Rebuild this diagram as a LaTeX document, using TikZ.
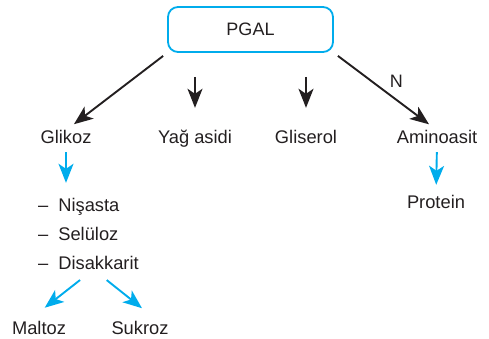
\documentclass[tikz,border=0pt]{standalone}
\usepackage{fontspec}
\setmainfont{Liberation Sans}
\usepackage{tikz}
\usetikzlibrary{arrows.meta, positioning, calc}
\definecolor{pblue}{RGB}{0,172,236}
\definecolor{ink}{RGB}{35,31,32}
\tikzset{
  box/.style ={rectangle, rounded corners=10pt, draw=pblue, line width=1.8pt, minimum width=165pt, minimum height=45pt, font=\fontsize{18}{20}\selectfont, text=ink},
  txt/.style ={inner sep=0pt, text height=13pt, text depth=0pt, font=\fontsize{18.3}{20}\selectfont, text=ink},
  fl/.style  ={draw=ink, line width=1.9pt, -{Stealth[length=19pt, width=15pt, inset=5pt]}},
  bfl/.style ={draw=pblue, line width=1.9pt, -{Stealth[length=19pt, width=15pt, inset=5pt]}},
  lbl/.style ={inner sep=0pt, text height=13pt, text depth=0pt, font=\fontsize{18}{20}\selectfont, text=ink},
}
\begin{document}
\begin{tikzpicture}[x=1pt, y=-1pt]
  \useasboundingbox (0,0) rectangle (489,338);
  \node[box] (pgal) at (250.5,29.5) {PGAL};
  \node[txt] (glikoz) at (66,137) {Glikoz};
  \node[txt] (yag) at (195,137) {Yağ asidi};
  \node[txt] (gliserol) at (306,137) {Gliserol};
  \node[txt] (amino) at (437,137) {Aminoasit};
  \node[txt] (protein) at (436,202) {Protein};
  \node[txt, anchor=west] (nisasta) at (38,205) {–\hspace{10pt}Nişasta};
  \node[txt, below=16pt of nisasta.south west, anchor=north west] (seluloz) {–\hspace{10pt}Selüloz};
  \node[txt, below=15pt of seluloz.south west, anchor=north west] (disak) {–\hspace{10pt}Disakkarit};
  \node[txt] (maltoz) at (39,328) {Maltoz};
  \node[txt] (sukroz) at (140,328) {Sukroz};
  \draw[fl, shorten <=5pt, shorten >=10pt] (pgal.south west) -- (glikoz.north);
  \draw[fl, shorten <=24pt, shorten >=22.5pt] (pgal.south -| yag) -- (yag.north);
  \draw[fl, shorten <=24pt, shorten >=22.5pt] (pgal.south -| gliserol) -- (gliserol.north);
  \draw[fl, shorten <=5pt, shorten >=10pt] (pgal.south east) -- node[lbl, above right=5pt] (nlab) {N} (amino.north);
  \draw[bfl, shorten <=8.5pt, shorten >=15.5pt] (glikoz.south) -- (glikoz.south |- nisasta.north);
  \draw[bfl, shorten <=8.5pt, shorten >=10.5pt] (amino.south) -- (protein.north);
  \draw[bfl, shorten <=17pt, shorten >=22pt] ($(disak.south)+(5,0)$) -- (maltoz.150);
  \draw[bfl, shorten <=17pt, shorten >=21pt] ($(disak.south)+(5,0)$) -- (sukroz.20);
\end{tikzpicture}
\end{document}
